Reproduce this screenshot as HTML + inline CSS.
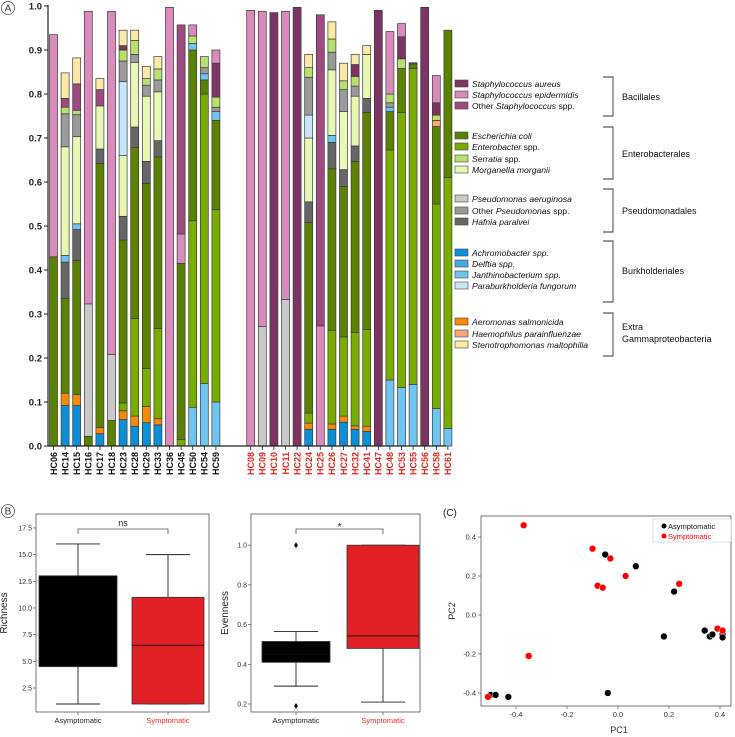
<!DOCTYPE html>
<html><head><meta charset="utf-8"><style>
body{margin:0;background:#fff;}
svg{display:block;font-family:"Liberation Sans",Arial,sans-serif;}
</style></head><body>
<svg id="fig" width="735" height="737" viewBox="0 0 735 737" xmlns="http://www.w3.org/2000/svg">
<g id="panelA"></g>
<g id="legendA"></g>
<g id="panelB1"></g>
<g id="panelB2"></g>
<g id="panelC"></g>
</svg>
<script>
// ---------- Panel A data ----------
const sampleNames = ["HC06","HC14","HC15","HC16","HC17","HC18","HC23","HC28","HC29","HC33","HC36","HC45","HC50","HC54","HC59",
 "HC08","HC09","HC10","HC11","HC22","HC24","HC25","HC26","HC27","HC32","HC41","HC47","HC48","HC53","HC55","HC56","HC58","HC61"];
const sampleGroup = [0,0,0,0,0,0,0,0,0,0,0,0,0,0,0, 1,1,1,1,1,1,1,1,1,1,1,1,1,1,1,1,1,1];
// stacks: [category, cumulative top]
const stacks = [
 [["ec",0.43],["se",0.935]],
 [["ac",0.092],["ae",0.12],["ec",0.335],["hp",0.418],["ja",0.433],["mm",0.68],["op",0.755],["sr",0.77],["os",0.79],["st",0.848]],
 [["ac",0.092],["ae",0.117],["ec",0.422],["hp",0.492],["ja",0.505],["mm",0.703],["op",0.753],["sr",0.763],["os",0.823],["st",0.882]],
 [["ec",0.022],["pa",0.323],["se",0.988]],
 [["ac",0.028],["ae",0.042],["ec",0.642],["hp",0.675],["mm",0.773],["os",0.81],["st",0.835]],
 [["ec",0.058],["pa",0.208],["se",0.988]],
 [["ac",0.06],["ae",0.08],["en",0.098],["ec",0.468],["hp",0.522],["mm",0.66],["pb",0.828],["op",0.875],["sr",0.9],["sa",0.91],["st",0.945]],
 [["ac",0.045],["ae",0.068],["en",0.29],["ec",0.678],["hp",0.725],["mm",0.872],["op",0.89],["sr",0.922],["st",0.945]],
 [["ac",0.053],["ae",0.09],["en",0.176],["ec",0.597],["hp",0.647],["mm",0.795],["op",0.82],["sr",0.835],["st",0.863]],
 [["ac",0.048],["ae",0.062],["en",0.267],["ec",0.657],["hp",0.694],["mm",0.805],["op",0.832],["sr",0.857],["st",0.885]],
 [["se",0.997]],
 [["en",0.015],["ec",0.415],["se",0.482],["os",0.957]],
 [["ja",0.088],["en",0.512],["ec",0.9],["ja",0.915],["sr",0.932],["se",0.957]],
 [["ja",0.142],["en",0.8],["ec",0.832],["ja",0.846],["op",0.86],["sr",0.885]],
 [["ja",0.1],["en",0.537],["ec",0.74],["ja",0.76],["op",0.77],["sr",0.793],["sa",0.87],["se",0.9]],
 [["se",0.99]],
 [["pa",0.272],["se",0.988]],
 [["sa",0.985]],
 [["pa",0.333],["se",0.988]],
 [["sa",0.997]],
 [["ac",0.038],["ae",0.052],["en",0.075],["ec",0.508],["hp",0.555],["mm",0.7],["pb",0.752],["op",0.838],["sr",0.86],["st",0.89]],
 [["se",0.273],["os",0.98]],
 [["ac",0.038],["ae",0.05],["en",0.263],["ec",0.63],["hp",0.69],["ja",0.706],["mm",0.855],["op",0.895],["sr",0.925],["st",0.964]],
 [["ac",0.054],["ae",0.068],["en",0.248],["ec",0.59],["hp",0.628],["mm",0.76],["op",0.81],["sr",0.83],["st",0.87]],
 [["ac",0.038],["ae",0.046],["en",0.258],["ec",0.647],["hp",0.682],["mm",0.795],["op",0.818],["sr",0.84],["sa",0.867],["st",0.89]],
 [["ac",0.033],["ae",0.045],["en",0.265],["ec",0.758],["hp",0.79],["mm",0.89],["st",0.91]],
 [["sa",0.99]],
 [["ja",0.15],["en",0.673],["ec",0.76],["ja",0.77],["op",0.78],["sr",0.8],["se",0.942]],
 [["ja",0.133],["en",0.758],["ec",0.858],["sr",0.88],["sa",0.93],["se",0.96]],
 [["ja",0.14],["en",0.858],["ec",0.868],["sa",0.871]],
 [["sa",0.997]],
 [["ja",0.085],["en",0.55],["ec",0.726],["hi",0.74],["sr",0.752],["sa",0.78],["se",0.842]],
 [["ja",0.04],["en",0.61],["ec",0.945]]
];
const yTicksA = [0,0.1,0.2,0.3,0.4,0.5,0.6,0.7,0.8,0.9,1.0];

const colors = {sa:"#7c3563",se:"#d98bbb",os:"#9e4a80",ec:"#5a8200",en:"#7aac00",sr:"#b9e06c",mm:"#e6f8b2",
 pa:"#c9c9c9",op:"#9a9a9a",hp:"#666666",ac:"#0a8fd8",de:"#45aae4",ja:"#6ec5f1",pb:"#c8e6fb",ae:"#f48a05",hi:"#f8a874",st:"#fce9a8"};

// ---------- Panel B data ----------
const groups = ["Asymptomatic","Symptomatic"];
const richStats = [ {lo:1,q1:4.5,med:13,q3:13,hi:16}, {lo:1,q1:1,med:6.5,q3:11,hi:15} ];
const richTicks = [2.5,5.0,7.5,10.0,12.5,15.0,17.5];
const evenStats = [ {lo:0.29,q1:0.41,med:0.45,q3:0.515,hi:0.565,out:[1.0,0.19]}, {lo:0.21,q1:0.48,med:0.543,q3:1.0,hi:1.0,out:[]} ];
const evenTicks = [0.2,0.4,0.6,0.8,1.0];

// ---------- Panel C data ----------
const redPC1 = [-0.37,-0.10,-0.03,0.03,-0.08,-0.06,0.24,-0.35,-0.51,0.39,0.41];
const redPC2 = [0.46,0.34,0.29,0.20,0.15,0.14,0.16,-0.21,-0.42,-0.07,-0.08];
const blackPC1 = [-0.05,0.07,0.22,0.18,0.34,0.36,0.37,0.41,0.41,-0.04,-0.50,-0.48,-0.43];
const blackPC2 = [0.31,0.25,0.12,-0.11,-0.08,-0.11,-0.10,-0.10,-0.115,-0.40,-0.41,-0.41,-0.42];
const pcXTicks = [-0.4,-0.2,0.0,0.2,0.4];
const pcYTicks = [-0.4,-0.2,0.0,0.2,0.4];

const NS="http://www.w3.org/2000/svg";
function mk(parent,tag,attrs,text){const e=document.createElementNS(NS,tag);for(const k in attrs)e.setAttribute(k,attrs[k]);if(text!==undefined)e.textContent=text;parent.appendChild(e);return e;}

// ===== Panel A =====
(function(){
 const g=document.getElementById("panelA");
 const y=v=>446-v*440;
 const slot=i=>53.5+11.6*(i<15?i:i+2);
 const lab=mk(g,"circle",{cx:8,cy:8,r:6.5,fill:"none",stroke:"#555","stroke-width":0.8});
 
 
 mk(g,"text",{x:8,y:11.5,"font-size":10,"text-anchor":"middle",fill:"#333"},"A");
 yTicksA.forEach(t=>{
  const tl=mk(g,"line",{x1:44,x2:48,y1:y(t),y2:y(t),stroke:"#222"});
  
  
  const tx=mk(g,"text",{x:42,y:y(t)+3.5,"font-size":9.5,"font-weight":"bold","text-anchor":"end",fill:"#222"},t.toFixed(1));
  
  
 });
 stacks.forEach((st,i)=>{
  const cx=slot(i);let prev=0;
  st.forEach(([c,top])=>{
   const r=mk(g,"rect",{x:cx-4,y:y(top),width:8,height:Math.max(0.3,y(prev)-y(top)),fill:colors[c],stroke:"#3a3a3a","stroke-width":0.7});
   
   
   prev=top;
  });
  const t=mk(g,"text",{x:0,y:0,"font-size":9,"font-weight":"bold","text-anchor":"end",fill:sampleGroup[i]?"#e8261b":"#111",transform:`translate(${cx+3.3},452) rotate(-90)`},sampleNames[i]);
  
  
  mk(g,"line",{x1:cx,x2:cx,y1:446,y2:450,stroke:"#222","stroke-width":0.8});
 });
 const ax=mk(g,"line",{x1:48,x2:48,y1:5,y2:446,stroke:"#222","stroke-width":1.2});
 
 
 const bx=mk(g,"line",{x1:48,x2:446,y1:446,y2:446,stroke:"#222","stroke-width":1.2});
 
 
})();

// ===== Legend =====
(function(){
 const g=document.getElementById("legendA");
 const items=[
  [84,"sa",[["Staphylococcus aureus",1]]],[95,"se",[["Staphylococcus epidermidis",1]]],[106,"os",[["Other ",0],["Staphylococcus",1],[" spp.",0]]],
  [136,"ec",[["Escherichia coli",1]]],[147,"en",[["Enterobacter",1],[" spp.",0]]],[159,"sr",[["Serratia",1],[" spp.",0]]],[170,"mm",[["Morganella morganii",1]]],
  [199,"pa",[["Pseudomonas aeruginosa",1]]],[211,"op",[["Other ",0],["Pseudomonas",1],[" spp.",0]]],[222,"hp",[["Hafnia paralvei",1]]],
  [253,"ac",[["Achromobacter spp.",1]]],[264,"de",[["Delftia spp.",1]]],[275,"ja",[["Janthinobacterium spp.",1]]],[286,"pb",[["Paraburkholderia fungorum",1]]],
  [322,"ae",[["Aeromonas salmonicida",1]]],[334,"hi",[["Haemophilus parainfluenzae",1]]],[345,"st",[["Stenotrophomonas maltophilia",1]]]];
 items.forEach(([yy,c,parts])=>{
  const r=mk(g,"rect",{x:455,y:yy-4,width:13,height:7,fill:colors[c],stroke:"#444","stroke-width":0.6});
  
  
  const t=mk(g,"text",{x:472,y:yy+3,"font-size":8.6,fill:"#111"});
  
  
  parts.forEach(([s,it])=>{const sp=mk(t,"tspan",it?{"font-style":"italic"}:{},s);});
 });
 const br=[[77,116,"Bacillales",[100]],[127,179,"Enterobacterales",[157]],[189,232,"Pseudomonadales",[214]],[241,302,"Burkholderiales",[274]],[313,356,"Extra|Gammaproteobacteria",[330,342]]];
 br.forEach(([a,b,name,ys])=>{
  const p=mk(g,"path",{d:`M603 ${a}H613V${b}H603`,fill:"none",stroke:"#333","stroke-width":0.9});
  
  
  name.split("|").forEach((s,k)=>{
   const t=mk(g,"text",{x:622,y:ys[k],"font-size":9,fill:"#111"},s);
   
   
  });
 });
})();

// ===== Box plot helper =====
function boxPlot(gid,frame,ticks,fmt,stats,yOf,ylab,ylabX,sig){
 const g=document.getElementById(gid);
 const fr=mk(g,"rect",{x:frame[0],y:frame[1],width:frame[2]-frame[0],height:frame[3]-frame[1],fill:"none",stroke:"#555","stroke-width":0.8});
 
 
 ticks.forEach(t=>{
  mk(g,"line",{x1:frame[0]-3,x2:frame[0],y1:yOf(t),y2:yOf(t),stroke:"#555","stroke-width":0.7});
  const tx=mk(g,"text",{x:frame[0]-4,y:yOf(t)+2.5,"font-size":7,"text-anchor":"end",fill:"#333"},fmt(t));
  
  
 });
 const yl=mk(g,"text",{x:0,y:0,"font-size":10,"text-anchor":"middle",fill:"#222",transform:`translate(${ylabX},613) rotate(-90)`},ylab);
 
 
 stats.forEach((s,i)=>{
  const cx=s.cx, hw=s.hw, fill=i?"#e02024":"#000";
  mk(g,"line",{x1:cx,x2:cx,y1:yOf(s.hi),y2:yOf(s.lo),stroke:"#222","stroke-width":0.9});
  mk(g,"line",{x1:cx-22,x2:cx+22,y1:yOf(s.hi),y2:yOf(s.hi),stroke:"#222","stroke-width":0.9});
  mk(g,"line",{x1:cx-22,x2:cx+22,y1:yOf(s.lo),y2:yOf(s.lo),stroke:"#222","stroke-width":0.9});
  const b=mk(g,"rect",{x:cx-hw,y:yOf(s.q3),width:2*hw,height:yOf(s.q1)-yOf(s.q3),fill:fill,stroke:"#333","stroke-width":0.8});
  
  
  mk(g,"line",{x1:cx-hw,x2:cx+hw,y1:yOf(s.med),y2:yOf(s.med),stroke:"#111","stroke-width":0.9});
  (s.out||[]).forEach(o=>{mk(g,"path",{d:`M${cx} ${yOf(o)-3}L${cx+2} ${yOf(o)}L${cx} ${yOf(o)+3}L${cx-2} ${yOf(o)}Z`,fill:"#111"});});
  mk(g,"line",{x1:cx,x2:cx,y1:frame[3],y2:frame[3]+3,stroke:"#555","stroke-width":0.7});
  const xl=mk(g,"text",{x:cx,y:723,"font-size":7.5,"text-anchor":"middle",fill:i?"#ee2a24":"#222"},groups[i]);
  
  
 });
 const a=stats[0].cx,b=stats[1].cx;
 mk(g,"path",{d:`M${a} 534V529H${b}V534`,fill:"none",stroke:"#555","stroke-width":0.8});
 const st=mk(g,"text",{x:(a+b)/2,y:sig==="ns"?526:530,"font-size":sig==="ns"?9:10,"text-anchor":"middle",fill:"#222"},sig);
 
 
}
(function(){
 const g=document.getElementById("panelB1");
 mk(g,"circle",{cx:8,cy:511,r:6.5,fill:"none",stroke:"#555","stroke-width":0.8});
 mk(g,"text",{x:8,y:514.5,"font-size":10,"text-anchor":"middle",fill:"#333"},"B");
 richStats[0].cx=78;richStats[0].hw=39;richStats[1].cx=168;richStats[1].hw=36;
 boxPlot("panelB1",[36,514,209,712],richTicks,t=>t.toFixed(1),richStats,v=>688-(v-2.5)*10.67,"Richness",7,"ns");
 evenStats[0].cx=296;evenStats[0].hw=34;evenStats[1].cx=383;evenStats[1].hw=36;
 boxPlot("panelB2",[251,514,420,712],evenTicks,t=>t.toFixed(1),evenStats,v=>704-(v-0.2)*198.5,"Evenness",228,"*");
})();

// ===== Panel C =====
(function(){
 const g=document.getElementById("panelC");
 const X=v=>618+v*255, Y=v=>615-v*195;
 mk(g,"text",{x:443,y:516,"font-size":10,fill:"#222"},"(C)");
 const fr=mk(g,"rect",{x:481,y:516,width:250,height:190,fill:"none",stroke:"#555","stroke-width":0.8});
 
 
 pcXTicks.forEach(t=>{
  mk(g,"line",{x1:X(t),x2:X(t),y1:706,y2:709,stroke:"#555","stroke-width":0.7});
  const tx=mk(g,"text",{x:X(t),y:717,"font-size":7.5,"text-anchor":"middle",fill:"#333"},t.toFixed(1));
  
  
 });
 pcYTicks.forEach(t=>{
  mk(g,"line",{x1:478,x2:481,y1:Y(t),y2:Y(t),stroke:"#555","stroke-width":0.7});
  const tx=mk(g,"text",{x:476,y:Y(t)+2.5,"font-size":7.5,"text-anchor":"end",fill:"#333"},t.toFixed(1));
  
  
 });
 const xt=mk(g,"text",{x:619,y:733,"font-size":9,"text-anchor":"middle",fill:"#333"},"PC1");
 
 
 const yt=mk(g,"text",{x:0,y:0,"font-size":9,"text-anchor":"middle",fill:"#333",transform:"translate(455,611) rotate(-90)"},"PC2");
 
 
 blackPC1.forEach((v,i)=>{
  const c=mk(g,"circle",{cx:X(v),cy:Y(blackPC2[i]),r:3.4,fill:"#000",stroke:"#fff","stroke-width":0.5});
  
  
 });
 redPC1.forEach((v,i)=>{
  const c=mk(g,"circle",{cx:X(v),cy:Y(redPC2[i]),r:3.4,fill:"#f00",stroke:"#fff","stroke-width":0.5});
  
  
 });
 const lb=mk(g,"rect",{x:653,y:519,width:78,height:23,fill:"#fff",stroke:"#ccc","stroke-width":0.6});
 
 
 mk(g,"circle",{cx:664,cy:526,r:2.5,fill:"#000"});
 mk(g,"circle",{cx:664,cy:536,r:2.5,fill:"#f00"});
 const l1=mk(g,"text",{x:668,y:529,"font-size":7.5,fill:"#111"},"Asymptomatic");
 
 
 const l2=mk(g,"text",{x:668,y:539,"font-size":7.5,fill:"#f00"},"Symptomatic");
 
 
})();
</script>
</body></html>
